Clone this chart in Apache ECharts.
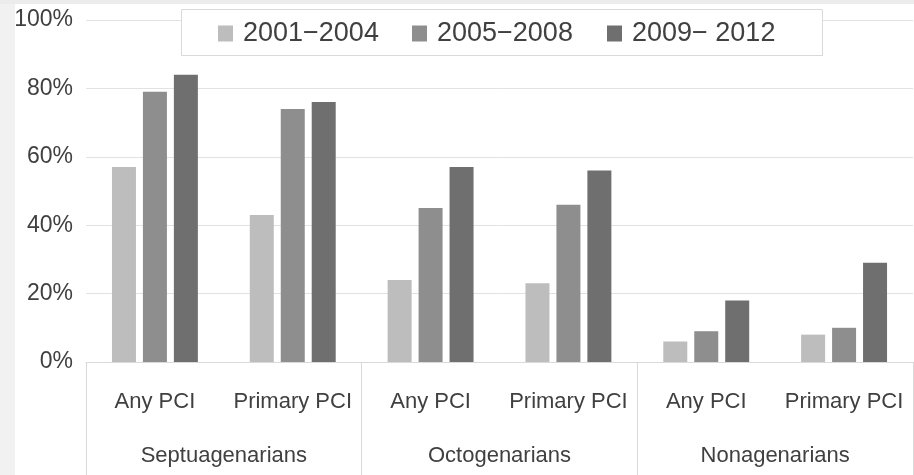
<!DOCTYPE html>
<html>
<head>
<meta charset="utf-8">
<script src="https://cdn.jsdelivr.net/npm/echarts@6/dist/echarts.min.js"></script>
<style>
html,body{margin:0;padding:0;background:#fff;}
#chart{width:914px;height:475px;}
</style>
</head>
<body>
<div id="chart"></div>
<script>
const subCategories = ['Any PCI','Primary PCI','Any PCI','Primary PCI','Any PCI','Primary PCI'];
const groupCategories = ['Septuagenarians','Octogenarians','Nonagenarians'];
const seriesNames = ['2001\u22122004','2005\u22122008','2009\u2212 2012'];
const values2001 = [57, 43, 24, 23, 6, 8];
const values2005 = [79, 74, 45, 46, 9, 10];
const values2009 = [84, 76, 57, 56, 18, 29];

const colors = ['#bdbdbd', '#8e8e8e', '#6f6f6f'];
const FONT = '"Liberation Sans", Arial, sans-serif';
const TXT = '#404040';
const legendLefts = [218, 412, 607];

const chart = echarts.init(document.getElementById('chart'), null, {renderer:'canvas'});
const allValues = [values2001, values2005, values2009];

chart.setOption({
  backgroundColor: '#ffffff',
  animation: false,
  textStyle: {fontFamily: FONT},
  graphic: [
    {type:'rect', left:0, top:0, shape:{width:15, height:475}, style:{fill:'#f1f1f1'}, z:-10},
    {type:'rect', left:0, top:0, shape:{width:914, height:4}, style:{fill:'#ececec'}, z:-10},
    {type:'rect', left:181, top:9, shape:{x:0, y:0, width:641, height:46}, style:{fill:'#ffffff', stroke:'#d9d9d9', lineWidth:1}, z:50}
  ],
  legend: seriesNames.map((n, i) => ({
    left: legendLefts[i], top: 20, padding: 0,
    itemWidth: 15, itemHeight: 16,
    icon: 'rect', z: 60,
    textStyle: {fontFamily: FONT, fontSize: 27, color: TXT, padding:[0,0,0,5]},
    data: [n]
  })),
  grid: {left: 86, top: 20, width: 827, height: 342, containLabel: false},
  xAxis: [
    {
      type: 'category', data: subCategories, position: 'bottom',
      axisLine: {show: true, lineStyle: {color: '#d9d9d9', width: 1}},
      axisTick: {show: false},
      axisLabel: {interval: 0, fontFamily: FONT, fontSize: 22, color: TXT, margin: 40, verticalAlign: 'middle'}
    },
    {
      type: 'category', data: groupCategories, position: 'bottom',
      axisLine: {show: false},
      axisTick: {show: true, length: 113, interval: 0, lineStyle: {color: '#d9d9d9', width: 1}},
      axisLabel: {interval: 0, fontFamily: FONT, fontSize: 22, color: TXT, margin: 94, verticalAlign: 'middle'}
    }
  ],
  yAxis: {
    type: 'value', min: 0, max: 100, interval: 20,
    axisLine: {show: false}, axisTick: {show: false},
    splitLine: {lineStyle: {color: '#e2e2e2', width: 1}},
    axisLabel: {formatter: '{value}%', fontFamily: FONT, fontSize: 23, color: TXT, margin: 13}
  },
  series: seriesNames.map((n, i) => ({
    name: n, type: 'bar', xAxisIndex: 0,
    data: allValues[i],
    barWidth: 24, barGap: '29%',
    itemStyle: {color: colors[i]}
  }))
});
</script>
</body>
</html>
